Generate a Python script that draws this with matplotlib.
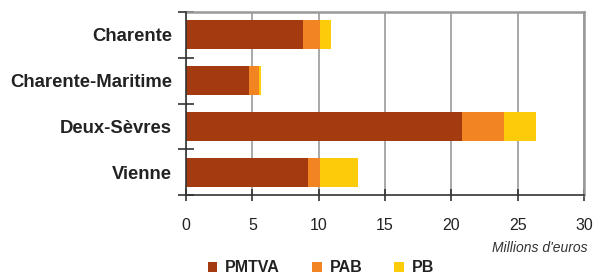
import matplotlib
matplotlib.use("Agg")
import matplotlib.pyplot as plt
import numpy as np

plt.rcParams['font.family'] = ['Liberation Sans', 'DejaVu Sans']

# data (millions d'euros)
departements = ["Charente", "Charente-Maritime", "Deux-Sèvres", "Vienne"]
pmtva = [8.8, 4.75, 20.8, 9.2]
pab = [1.3, 0.75, 3.15, 0.9]
pb = [0.83, 0.15, 2.4, 2.85]
series_names = ["PMTVA", "PAB", "PB"]
colors = ["#A33A10", "#F28522", "#FCCB0A"]

fig = plt.figure(figsize=(5.94, 2.74), dpi=100)
ax = fig.add_axes([186/594, 1 - 195/274, 398/594, 183/274])

y = np.arange(len(departements))
left = np.zeros(len(departements))
for vals, name, c in zip([pmtva, pab, pb], series_names, colors):
    ax.barh(y, vals, left=left, height=0.63, color=c, label=name, zorder=3)
    left = left + np.array(vals)

ax.set_xlim(0, 30)
ax.set_ylim(len(departements) - 0.5, -0.5)
ax.set_xticks(np.arange(0, 31, 5))
ax.set_yticks(y)
ax.set_yticklabels(departements, fontsize=13.3, fontweight='bold', color='#222222')
ax.set_yticks(np.arange(-0.5, len(departements)), minor=True)
ax.tick_params(axis='y', which='major', length=0, pad=10)
ax.tick_params(axis='y', which='minor', length=12, direction='inout', color='#333333', width=1.2)
ax.tick_params(axis='x', which='major', length=9, direction='inout', color='#333333', width=1.2,
               labelsize=11.5, labelcolor='#222222', pad=12)

ax.grid(axis='x', color='#999999', linewidth=1.2, zorder=0)
for s in ['top', 'right']:
    ax.spines[s].set_color('#999999')
    ax.spines[s].set_linewidth(1.8)
for s in ['left', 'bottom']:
    ax.spines[s].set_color('#333333')
    ax.spines[s].set_linewidth(1.2)
    ax.spines[s].set_zorder(4)

fig.text(588/594, 1 - 248/274, "Millions d'euros", ha='right', va='center',
         fontsize=10, style='italic', color='#333333')

fig.legend(loc='center', bbox_to_anchor=(321/594, 1 - 268/274), ncol=3, frameon=False,
           prop={'weight': 'bold', 'size': 11.5}, handlelength=0.6, handleheight=0.6,
           handletextpad=0.5, columnspacing=2.0, labelcolor='#222222')

fig.savefig("out.png", dpi=100)
